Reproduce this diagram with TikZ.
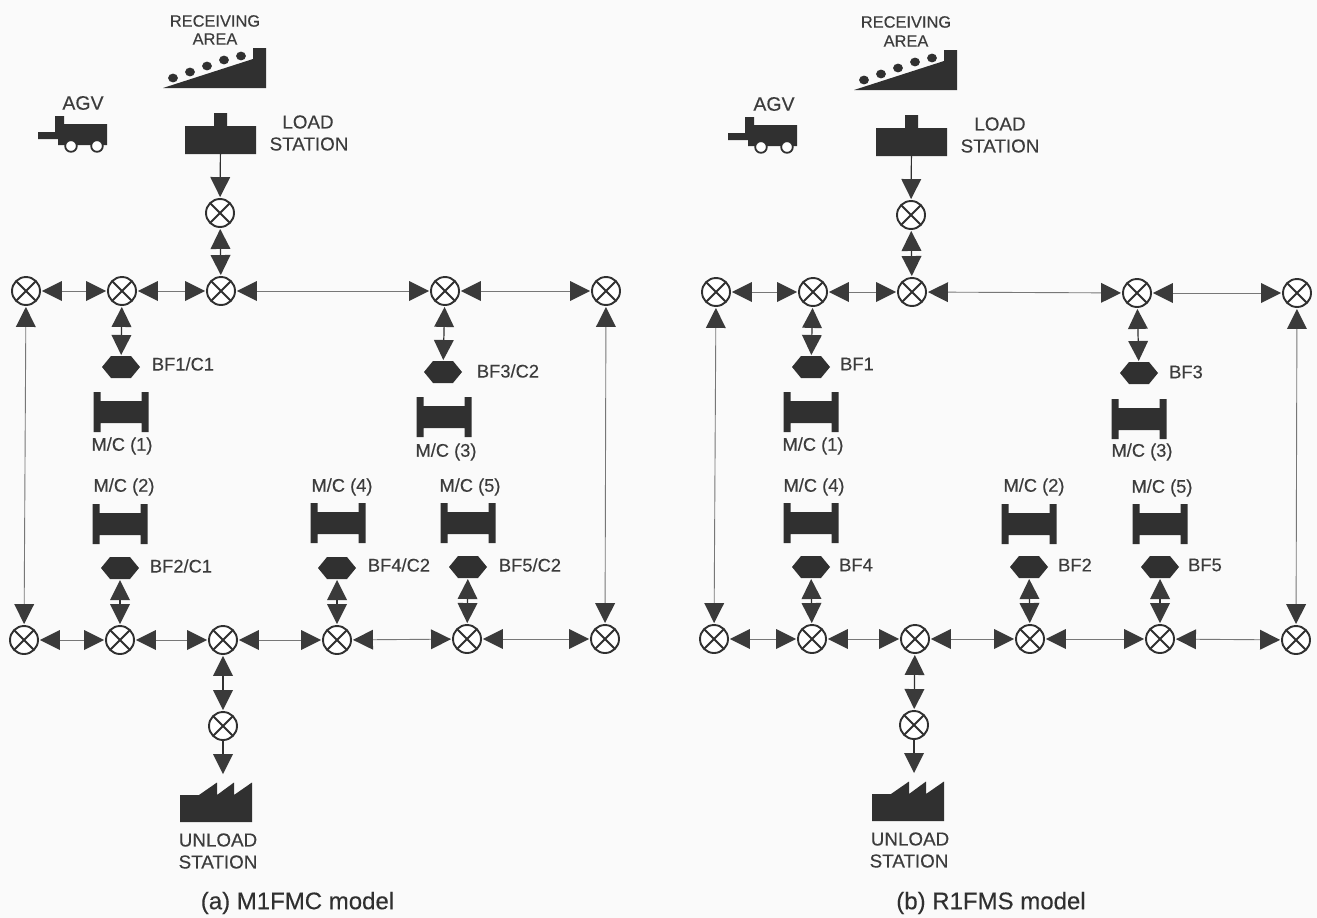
\documentclass[tikz,border=0pt]{standalone}
\usepackage{fontspec}
\setmainfont{Liberation Sans}[FakeBold=0.3]
\usetikzlibrary{arrows.meta}
\definecolor{ink}{HTML}{303030}
\definecolor{tri}{HTML}{3A3A3A}
\definecolor{wire}{HTML}{777777}
\definecolor{txt}{HTML}{3C3C3C}
\definecolor{paper}{HTML}{FAFAFA}
\tikzset{
  xnode/.style={circle,draw=ink,fill=white,line width=1.9pt,minimum size=28pt,inner sep=0pt,
    path picture={\draw[ink,line width=1.9pt]
      (path picture bounding box.north west)--(path picture bounding box.south east)
      (path picture bounding box.north east)--(path picture bounding box.south west);}},
  iconbox/.style={inner sep=0pt,outer sep=0pt,draw=none,fill=none},
  bi/.style={draw=wire,line width=0.9pt,shorten <=1pt,shorten >=1pt,
    {Triangle[length=20pt,width=20pt,color=tri,line width=0pt]}-{Triangle[length=20pt,width=20pt,color=tri,line width=0pt]}},
  bishort/.style={bi,draw=ink,line width=1.2pt},
  uni/.style={draw=ink,line width=1.2pt,shorten >=1pt,
    -{Triangle[length=20pt,width=20pt,color=tri,line width=0pt]}},
  lab/.style={inner sep=0pt,text=txt,font=\fontsize{18.3}{20}\selectfont},
  agvtext/.style={inner sep=0pt,text=txt,font=\fontsize{19.5}{20}\selectfont},
  recv/.style={inner sep=0pt,text=txt,font=\fontsize{16.4}{18}\selectfont},
  big/.style={inner sep=0pt,text=txt,font=\fontsize{18.8}{20}\selectfont},
  captext/.style={inner sep=0pt,text=ink,font=\fontsize{24}{26}\selectfont}
}
% hexagon buffer
\newcommand\hexbuf[3]{%
  \node[iconbox,minimum width=38pt,minimum height=22pt] (#1) at (#2,#3) {};
  \fill[ink] (#1.west) -- ([xshift=-10pt]#1.north) -- ([xshift=10pt]#1.north) -- (#1.east)
     -- ([xshift=10pt]#1.south) -- ([xshift=-10pt]#1.south) -- cycle;}
% machine
\newcommand\machine[3]{%
  \node[iconbox,minimum width=55pt,minimum height=40pt] (#1) at (#2,#3) {};
  \begin{scope}[shift={(#1.center)}]
  \fill[ink] (-27.5,-20) -- (-20.5,-20) -- (-20.5,-11) -- (20.5,-11) -- (20.5,-20) -- (27.5,-20)
     -- (27.5,20) -- (20.5,20) -- (20.5,11) -- (-20.5,11) -- (-20.5,20) -- (-27.5,20) -- cycle;
  \end{scope}}
% receiving ramp: shift relative to the left panel's drawing
\newcommand\ramp[2]{%
  \begin{scope}[shift={(#1,#2)}]
  \fill[ink] (163,88) -- (266,88) -- (266,48) -- (253,48) -- (253,59) -- cycle;
  \foreach \bx/\by in {173/78,190/72,207/66,224/60,241/56}
    \fill[ink] (\bx,\by) ellipse [x radius=4.9,y radius=4.4];
  \end{scope}}
\newcommand\agv[2]{%
  \begin{scope}[shift={(#1,#2)}]
  \fill[ink] (38,132) -- (55,132) -- (55,116) -- (64,116) -- (64,124) -- (107,124) -- (107,145)
     -- (58,145) -- (58,139) -- (38,139) -- cycle;
  \draw[ink,fill=white,line width=1.8pt] (71,146) circle [radius=5.8];
  \draw[ink,fill=white,line width=1.8pt] (97,146) circle [radius=5.8];
  \end{scope}}
\newcommand\loadst[3]{%
  \node[iconbox,minimum width=71pt,minimum height=28pt] (#1) at (#2,#3) {};
  \fill[ink] (#1.south west) -- (#1.south east) -- (#1.north east)
     -- ([xshift=6.5pt]#1.north) -- ([xshift=6.5pt,yshift=13pt]#1.north)
     -- ([xshift=-6.5pt,yshift=13pt]#1.north) -- ([xshift=-6.5pt]#1.north) -- (#1.north west) -- cycle;}
% unload factory: invisible box whose north edge is where the arrow ends
\newcommand\unloadst[3]{%
  \node[iconbox,minimum width=72pt,minimum height=47pt] (#1) at (#2,#3) {};
  \begin{scope}[shift={(#1.center)}]
  \fill[ink] (-36,-3.5) -- (-17,-3.5) -- (1,-16) -- (1,-3.5) -- (18,-16) -- (18,-3.5) -- (36,-16)
     -- (36,23.5) -- (-36,23.5) -- cycle;
  \end{scope}}
\begin{document}
\begin{tikzpicture}[x=1pt,y=-1pt]
\useasboundingbox (0,0) rectangle (1317,918);
\fill[paper] (0,0) rectangle (1317,918);

% ---------- (a) M1FMC model ----------
\node[recv] (arecv1) at (215,21) {RECEIVING};
\node[recv] (arecv2) at (215,39) {AREA};
\ramp{0}{0}
\node[agvtext] (aagvt) at (83,103) {AGV};
\agv{0}{0}
\loadst{aload}{220.5}{140}
\node[big] (aload1) at (308,122) {LOAD};
\node[big] (aload2) at (309,144) {STATION};
\node[xnode] (at0) at (220,213) {};
\node[xnode] (at1) at (26,291) {};
\node[xnode] (at2) at (122,291) {};
\node[xnode] (at3) at (221,291) {};
\node[xnode] (at4) at (445,291) {};
\node[xnode] (at5) at (606,291) {};
\node[xnode] (ab1) at (24,640) {};
\node[xnode] (ab2) at (120,640) {};
\node[xnode] (ab3) at (223,640) {};
\node[xnode] (ab4) at (337,640) {};
\node[xnode] (ab5) at (467,639) {};
\node[xnode] (ab6) at (605,639) {};
\node[xnode] (ab0) at (223,726) {};
\hexbuf{abf1}{121}{367}
\hexbuf{abf2}{120}{568}
\hexbuf{abf3}{443}{372}
\hexbuf{abf4}{337}{568}
\hexbuf{abf5}{468}{567}
\machine{am1}{121}{412}
\machine{am2}{120}{524}
\machine{am3}{444}{417}
\machine{am4}{338}{523}
\machine{am5}{468}{523}
\unloadst{aun}{216}{798.5}
\node[lab] at (183,364) {BF1/C1};
\node[lab] at (181,566) {BF2/C1};
\node[lab] at (508,371) {BF3/C2};
\node[lab] at (399,565) {BF4/C2};
\node[lab] at (530,565) {BF5/C2};
\node[lab] at (122,446) {M/C (1)};
\node[lab] at (124,487) {M/C (2)};
\node[lab] at (446,452) {M/C (3)};
\node[lab] at (342,487) {M/C (4)};
\node[lab] at (470,487) {M/C (5)};
\node[big] at (218,840) {UNLOAD};
\node[big] at (218,862) {STATION};
\node[captext] at (297.5,903) {(a) M1FMC model};

\draw[uni] (aload) -- (at0);
\draw[bishort] (at0) -- (at3);
\draw[bi] (at1) -- (at2);
\draw[bi] (at2) -- (at3);
\draw[bi] (at3) -- (at4);
\draw[bi] (at4) -- (at5);
\draw[bi] (ab1) -- (ab2);
\draw[bi] (ab2) -- (ab3);
\draw[bi] (ab3) -- (ab4);
\draw[bi] (ab4) -- (ab5);
\draw[bi] (ab5) -- (ab6);
\draw[bi] (at1) -- (ab1);
\draw[bi] (at5) -- (ab6);
\draw[bishort] (at2) -- (abf1);
\draw[bishort] (at4) -- (abf3);
\draw[bishort] (ab2) -- (abf2);
\draw[bishort] (ab4) -- (abf4);
\draw[bishort] (ab5) -- (abf5);
\draw[bishort] (ab3) -- (ab0);
\draw[uni] (ab0) -- (aun.north -| ab0);

% ---------- (b) R1FMS model ----------
\node[recv] (brecv1) at (906,22) {RECEIVING};
\node[recv] (brecv2) at (906,41) {AREA};
\ramp{691}{2}
\node[agvtext] (bagvt) at (774,104) {AGV};
\agv{690}{1}
\loadst{bload}{911.5}{142}
\node[big] (bload1) at (1000,124) {LOAD};
\node[big] (bload2) at (1000,146) {STATION};
\node[xnode] (bt0) at (911,215) {};
\node[xnode] (bt1) at (716,292) {};
\node[xnode] (bt2) at (813,292) {};
\node[xnode] (bt3) at (912,292) {};
\node[xnode] (bt4) at (1137,293) {};
\node[xnode] (bt5) at (1297,293) {};
\node[xnode] (bb1) at (714,639) {};
\node[xnode] (bb2) at (812,639) {};
\node[xnode] (bb3) at (915,639) {};
\node[xnode] (bb4) at (1030,639) {};
\node[xnode] (bb5) at (1160,639) {};
\node[xnode] (bb6) at (1296,640) {};
\node[xnode] (bb0) at (914,725) {};
\hexbuf{bbf1}{811}{367}
\hexbuf{bbf4}{811}{567}
\hexbuf{bbf2}{1029}{567}
\hexbuf{bbf3}{1139}{373}
\hexbuf{bbf5}{1160}{567}
\machine{bm1}{811}{412}
\machine{bm4}{811}{523}
\machine{bm2}{1029}{524}
\machine{bm3}{1139}{419}
\machine{bm5}{1160}{524}
\unloadst{bun}{908}{797.5}
\node[lab] at (857,364) {BF1};
\node[lab] at (856,565) {BF4};
\node[lab] at (1075,565) {BF2};
\node[lab] at (1186,372) {BF3};
\node[lab] at (1205,565) {BF5};
\node[lab] at (813,446) {M/C (1)};
\node[lab] at (814,487) {M/C (4)};
\node[lab] at (1034,487) {M/C (2)};
\node[lab] at (1142,452) {M/C (3)};
\node[lab] at (1162,488) {M/C (5)};
\node[big] at (910,839) {UNLOAD};
\node[big] at (909,861) {STATION};
\node[captext] at (991,903) {(b) R1FMS model};

\draw[uni] (bload) -- (bt0);
\draw[bishort] (bt0) -- (bt3);
\draw[bi] (bt1) -- (bt2);
\draw[bi] (bt2) -- (bt3);
\draw[bi] (bt3) -- (bt4);
\draw[bi] (bt4) -- (bt5);
\draw[bi] (bb1) -- (bb2);
\draw[bi] (bb2) -- (bb3);
\draw[bi] (bb3) -- (bb4);
\draw[bi] (bb4) -- (bb5);
\draw[bi] (bb5) -- (bb6);
\draw[bi] (bt1) -- (bb1);
\draw[bi] (bt5) -- (bb6);
\draw[bishort] (bt2) -- (bbf1);
\draw[bishort] (bt4) -- (bbf3);
\draw[bishort] (bb2) -- (bbf4);
\draw[bishort] (bb4) -- (bbf2);
\draw[bishort] (bb5) -- (bbf5);
\draw[bishort] (bb3) -- (bb0);
\draw[uni] (bb0) -- (bun.north -| bb0);
\end{tikzpicture}
\end{document}
